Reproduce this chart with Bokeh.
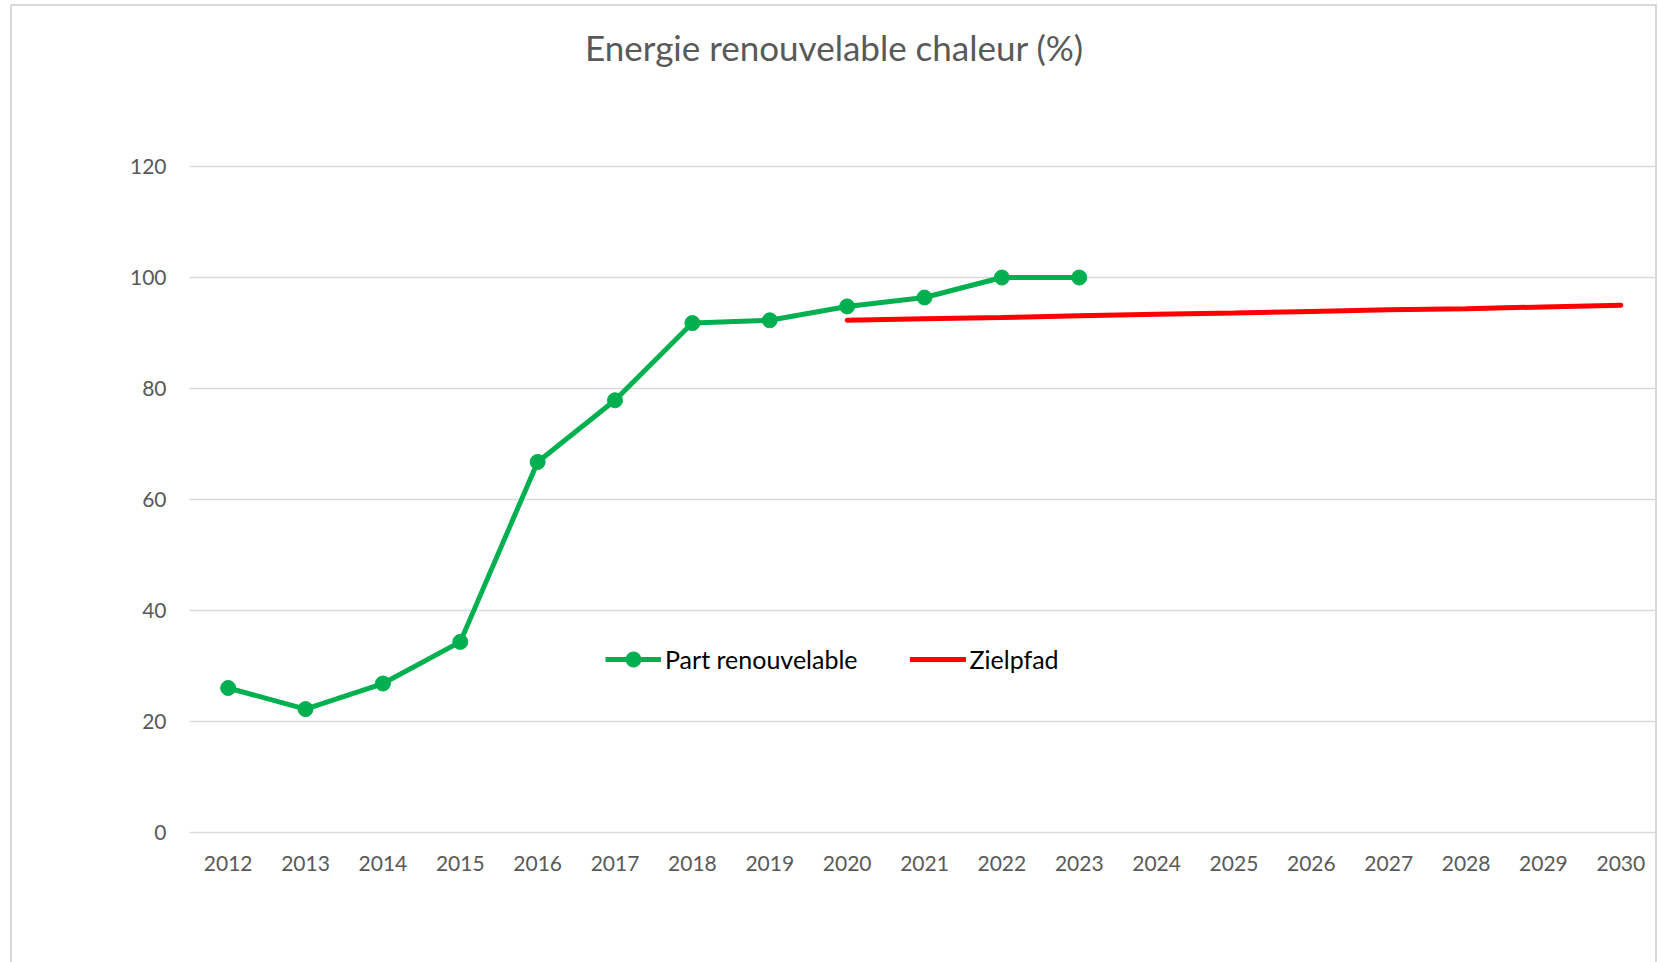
from bokeh.plotting import figure
from bokeh.models import FactorRange, Range1d, FixedTicker, Legend, LegendItem, Label
from bokeh.embed import file_html
from bokeh.resources import INLINE

years = [str(y) for y in range(2012, 2031)]
green_years = [str(y) for y in range(2012, 2024)]
green_vals = [26.1, 22.3, 26.9, 34.4, 66.8, 77.9, 91.8, 92.3, 94.8, 96.4, 100.0, 100.0]
red_years = [str(y) for y in range(2020, 2031)]
red_vals = [92.3, 92.6, 92.8, 93.1, 93.4, 93.6, 93.9, 94.2, 94.4, 94.7, 95.0]
y_ticks = [0, 20, 40, 60, 80, 100, 120]

title_text = "Energie renouvelable chaleur (%)"
green_label = "Part renouvelable"
red_label = "Zielpfad"

FONT = "Lato"
GREY = "#595959"

p = figure(width=1647, height=958, x_range=FactorRange(*years), y_range=Range1d(-1, 148.8),
           output_backend="svg", toolbar_location=None,
           min_border_left=177, min_border_right=0, min_border_top=0, min_border_bottom=126)
p.styles = {"margin-left": "10px", "margin-top": "4px",
            "border-left": "2px solid #d9d9d9", "border-top": "2px solid #d9d9d9",
            "border-right": "2px solid #d9d9d9", "box-sizing": "border-box"}
p.outline_line_color = None
p.background_fill_color = "white"
p.border_fill_color = "white"

p.xgrid.grid_line_color = None
p.ygrid.grid_line_color = "#d9d9d9"
p.ygrid.grid_line_width = 1.5
p.yaxis.ticker = FixedTicker(ticks=y_ticks)

for ax in (p.xaxis[0], p.yaxis[0]):
    ax.axis_line_color = None
    ax.major_tick_line_color = None
    ax.minor_tick_line_color = None
    ax.major_label_text_font = FONT
    ax.major_label_text_font_size = "21px"
    ax.major_label_text_color = GREY
p.yaxis.major_label_standoff = 17
p.xaxis.major_label_standoff = 11

rl = p.line(red_years, red_vals, line_color="#ff0000", line_width=5, line_cap="round")
gl = p.line(green_years, green_vals, line_color="#00b050", line_width=5, line_join="round")
gc = p.scatter(green_years, green_vals, size=15, fill_color="#00b050", line_color="#00b050")

legend = Legend(items=[LegendItem(label=green_label, renderers=[gl, gc]),
                       LegendItem(label=red_label, renderers=[rl])],
                orientation="horizontal", location=(416, 160),
                padding=0, margin=0, spacing=52, glyph_width=56, glyph_height=38,
                label_standoff=4, label_height=38,
                label_text_font=FONT, label_text_font_size="25px", label_text_color="#000000",
                border_line_color=None, background_fill_alpha=0)
p.add_layout(legend, "center")

p.add_layout(Label(x=645, x_units="screen", y=141.5, text=title_text,
                   text_align="center", text_baseline="middle", text_font=FONT,
                   text_font_size="35px", text_color=GREY))

open("out.html", "w").write(file_html(p, INLINE))
